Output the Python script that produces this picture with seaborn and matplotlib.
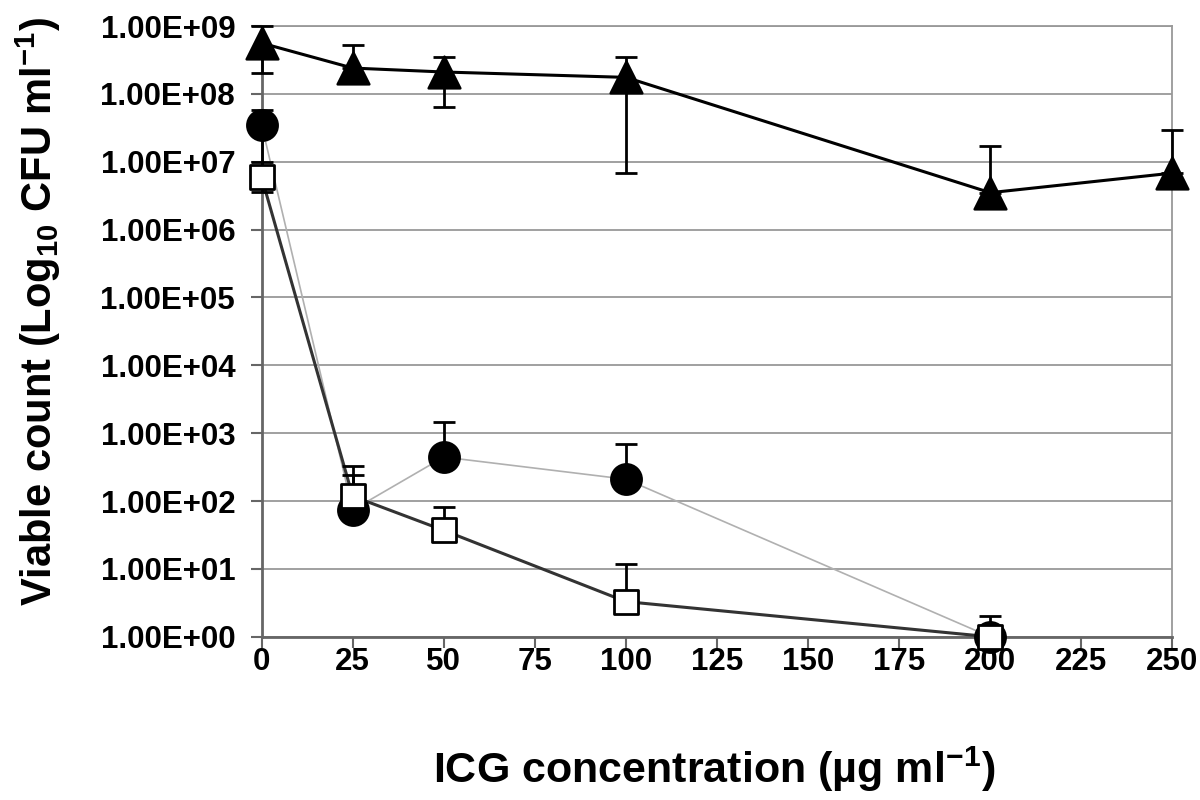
import numpy as np
import pandas as pd
import seaborn as sns
import matplotlib
matplotlib.use("Agg")
from matplotlib import pyplot as plt

# x values (ICG concentration)
conc_tri = [0, 25, 50, 100, 200, 250]
conc_lo = [0, 25, 50, 100, 200]

# triangles (black line)
tri_y = [5.6e8, 2.4e8, 2.1e8, 1.75e8, 3.5e6, 6.8e6]
tri_up = [1.0e9, 5.2e8, 3.5e8, 3.5e8, 1.7e7, 2.9e7]
tri_low = [2.0e8, 2.4e8, 6.4e7, 6.9e6, 3.5e6, 6.8e6]

# circles (light grey line)
cir_y = [3.5e7, 74, 445, 210, 1]
cir_up = [5.8e7, 240, 1450, 690, 1]
cir_low = [4.2e6, 74, 445, 210, 1]

# squares (dark grey line)
sq_y = [5.9e6, 118, 37, 3.3, 1]
sq_up = [1.0e7, 325, 81, 11.8, 2.0]
sq_low = [3.6e6, 118, 37, 3.3, 1]

ytick_vals = [1e0, 1e1, 1e2, 1e3, 1e4, 1e5, 1e6, 1e7, 1e8, 1e9]
ytick_labels = ["1.00E+00", "1.00E+01", "1.00E+02", "1.00E+03", "1.00E+04",
                "1.00E+05", "1.00E+06", "1.00E+07", "1.00E+08", "1.00E+09"]
xtick_vals = [0, 25, 50, 75, 100, 125, 150, 175, 200, 225, 250]

sns.set_style("white")
plt.rcParams['font.family'] = ['Liberation Sans', 'DejaVu Sans']
plt.rcParams['font.weight'] = 'bold'
plt.rcParams['text.color'] = 'black'
plt.rcParams['axes.labelcolor'] = 'black'
plt.rcParams['mathtext.fontset'] = 'custom'
plt.rcParams['mathtext.rm'] = 'Liberation Sans:bold'
plt.rcParams['mathtext.it'] = 'Liberation Sans:bold'
plt.rcParams['mathtext.bf'] = 'Liberation Sans:bold'

fig = plt.figure(figsize=(12, 8), dpi=100)
ax = fig.add_axes([0.218, 0.204, 0.759, 0.7635])

tri = pd.DataFrame({"x": conc_tri, "y": tri_y})
cir = pd.DataFrame({"x": conc_lo, "y": cir_y})
sq = pd.DataFrame({"x": conc_lo, "y": sq_y})

# lines
sns.lineplot(data=cir, x="x", y="y", ax=ax, color="#b0b0b0", lw=1.2, zorder=3)
sns.lineplot(data=sq, x="x", y="y", ax=ax, color="#333333", lw=2.2, zorder=3)
sns.lineplot(data=tri, x="x", y="y", ax=ax, color="black", lw=2.2, zorder=3)

# error bars
def ebar(x, y, lo, up):
    y = np.array(y); lo = np.array(lo); up = np.array(up)
    ax.errorbar(x, y, yerr=[y - lo, up - y], fmt="none", ecolor="black",
                elinewidth=2, capsize=8, capthick=2, zorder=4, clip_on=False)

ebar(conc_tri, tri_y, tri_low, tri_up)
ebar(conc_lo, cir_y, cir_low, cir_up)
ebar(conc_lo, sq_y, sq_low, sq_up)

# markers
sns.scatterplot(data=cir, x="x", y="y", ax=ax, marker="o", s=480, color="black",
                edgecolor="black", zorder=5, clip_on=False)
sns.scatterplot(data=tri, x="x", y="y", ax=ax, marker="^", s=520, color="black",
                edgecolor="black", zorder=5, clip_on=False)
sns.scatterplot(data=sq, x="x", y="y", ax=ax, marker="s", s=300, color="white",
                edgecolor="black", linewidth=2, zorder=6, clip_on=False)

ax.set_yscale("log")
ax.set_ylim(1, 1e9)
ax.set_xlim(0, 250)
ax.yaxis.set_minor_locator(matplotlib.ticker.NullLocator())
ax.set_yticks(ytick_vals)
ax.set_yticklabels(ytick_labels)
ax.set_xticks(xtick_vals)
ax.set_xticklabels([str(v) for v in xtick_vals])
ax.tick_params(axis="both", labelsize=22.5, direction="out", length=8, width=1.5,
               color="#666666", labelcolor="black", left=True, bottom=True)
ax.tick_params(axis="y", pad=11)
ax.tick_params(axis="x", pad=-1)
for lab in ax.get_xticklabels() + ax.get_yticklabels():
    lab.set_fontweight("bold")

ax.grid(axis="y", color="#999999", lw=1.3)
ax.set_axisbelow(True)
for s in ["left", "bottom"]:
    ax.spines[s].set_color("#666666")
    ax.spines[s].set_linewidth(2)
for s in ["top", "right"]:
    ax.spines[s].set_color("#999999")
    ax.spines[s].set_linewidth(1.3)

ax.set_xlabel("ICG concentration (µg ml$^{-1}$)", fontsize=31, fontweight="bold")
ax.set_ylabel("Viable count (Log$_{10}$ CFU ml$^{-1}$)", fontsize=30, fontweight="bold")
ax.xaxis.set_label_coords(0.497, -0.176)
ax.yaxis.set_label_coords(-0.218, 0.532)

fig.savefig("out.png", dpi=100)
